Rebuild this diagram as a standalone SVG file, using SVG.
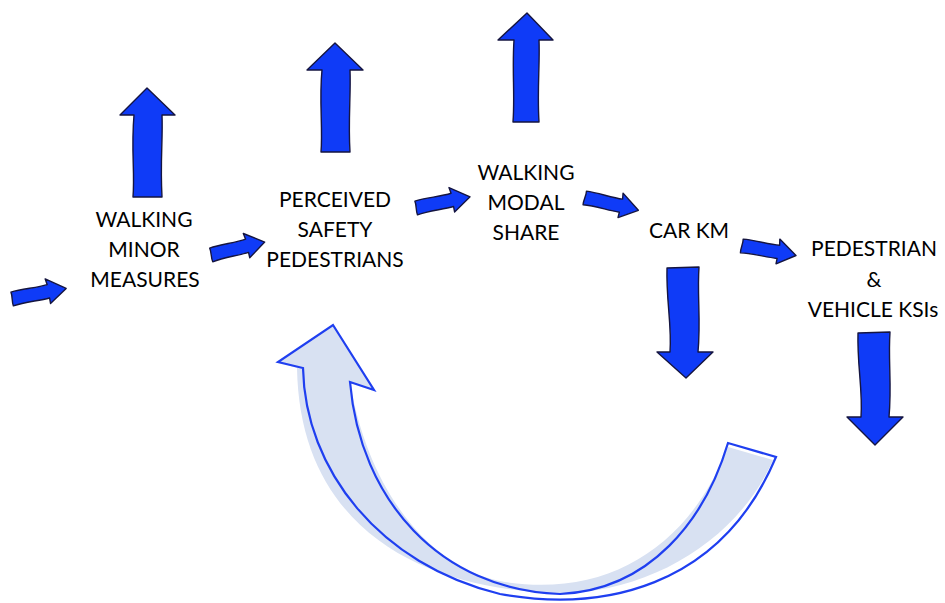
<svg xmlns="http://www.w3.org/2000/svg" width="945" height="603" viewBox="0 0 945 603">
<style>
.lbl{font-family:Lato,"Noto Sans","Liberation Sans",sans-serif;font-size:21px;fill:#000;text-anchor:middle}
.ar{fill:#0f3bf7;stroke:#151540;stroke-width:1.4;stroke-linejoin:round}
.loopfill{fill:#d8e1f2;stroke:none}
.loopline{fill:none;stroke:#1f3ff0;stroke-width:2.2;stroke-linejoin:miter}
</style>
<defs>
<path id="sm" d="M0,-6 C12,-7.5 26,-5.5 37,-7 L36,-13 L55,0 L37,12 L37,6.5 C25,7.5 12,6 0,8 C-1,4 1,-2 0,-6 Z"/>
</defs>
<rect width="945" height="603" fill="#fff"/>

<g id="loop">
<path class="loopfill" d="M333,325 L374,390 L350,382 C368,490 430,570 505,582 C610,598 690,545 728,447 L773,460 C740,535 660,588 570,593 C440,594 300,540 297,368 L278,362 Z"/>
<path class="loopline" d="M333,325 L374,390 L350,382 C360,500 440,590 560,594 C650,590 705,520 728,443 L776,457 C720,590 600,612 500,594 C380,565 305,470 303,368 L278,362 Z"/>
</g>

<g id="connectors">
<use href="#sm" class="ar" transform="translate(12,298) rotate(-10)"/>
<use href="#sm" class="ar" transform="translate(211,254) rotate(-12.5)"/>
<use href="#sm" class="ar" transform="translate(416,207) rotate(-10.7)"/>
<use href="#sm" class="ar" transform="translate(585,197) rotate(14)"/>
<use href="#sm" class="ar" transform="translate(742,245) rotate(11)"/>
</g>

<g id="up-arrows">
<path class="ar" d="M147,88 L175,115 L162,115 C163,140 160,162 162,197 L133,197 C135,172 131,150 134,115 L120,115 Z"/>
<path class="ar" d="M335,43 L363,70 L350,70 C351,95 348,120 350,152 L321,152 C323,128 319,100 322,70 L307,70 Z"/>
<path class="ar" d="M527,13 L553,40 L539,40 C540,65 537,90 539,122 L513,122 C515,95 512,70 514,40 L498,40 Z"/>
</g>
<g id="down-arrows">
<path class="ar" d="M667,268 L699,267 C697,295 701,320 698,352 L713,352 L686,378 L657,352 L670,352 C672,325 666,300 667,268 Z"/>
<path class="ar" d="M858,333 L890,332 C888,360 892,385 889,417 L903,417 L875,445 L847,417 L861,417 C863,390 857,365 858,333 Z"/>
</g>

<g id="node-walking-minor">
<text class="lbl" x="144" y="227">WALKING</text>
<text class="lbl" x="144" y="257">MINOR</text>
<text class="lbl" x="145" y="287">MEASURES</text>
</g>
<g id="node-perceived">
<text class="lbl" x="335" y="207">PERCEIVED</text>
<text class="lbl" x="335" y="237">SAFETY</text>
<text class="lbl" x="335" y="267">PEDESTRIANS</text>
</g>
<g id="node-modal">
<text class="lbl" x="526" y="180">WALKING</text>
<text class="lbl" x="526" y="210">MODAL</text>
<text class="lbl" x="526" y="240">SHARE</text>
</g>
<g id="node-carkm">
<text class="lbl" x="689" y="238">CAR KM</text>
</g>
<g id="node-ksi">
<text class="lbl" x="874" y="256">PEDESTRIAN</text>
<text class="lbl" x="874" y="287">&amp;</text>
<text class="lbl" x="873" y="317">VEHICLE KSIs</text>
</g>
</svg>
